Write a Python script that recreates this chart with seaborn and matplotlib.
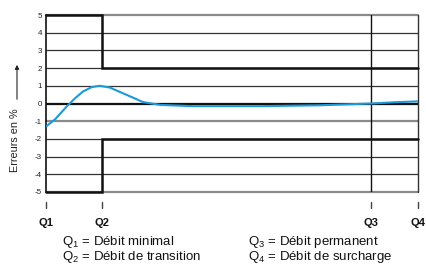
import pandas as pd
import seaborn as sns
import matplotlib.pyplot as plt

sns.set_theme(style='white')
plt.rcParams['font.family'] = ['Liberation Sans', 'DejaVu Sans']
plt.rcParams['mathtext.fontset'] = 'custom'
plt.rcParams['mathtext.rm'] = 'Liberation Sans'

# flow positions on the x axis
q_labels = ['Q1', 'Q2', 'Q3', 'Q4']
q_pos = [0, 1, 5.8, 6.64]

# error limits (%)
upper_x = [0, 1, 1, 6.64]
upper_y = [5, 5, 2, 2]
lower_x = [0, 1, 1, 6.64]
lower_y = [-5, -5, -2, -2]

# measured error curve
curve_x = [0, 0.16, 0.375, 0.52, 0.66, 0.82, 0.96, 1.14, 1.32, 1.54, 1.73,
           2.04, 2.63, 3.82, 4.89, 5.8, 6.23, 6.64]
curve_y = [-1.3, -0.9, -0.15, 0.3, 0.68, 0.93, 1.0, 0.9, 0.65, 0.35, 0.08,
           -0.08, -0.15, -0.15, -0.1, 0.0, 0.07, 0.12]

legend_left = ['Q$_{1}$ = Débit minimal', 'Q$_{2}$ = Débit de transition']
legend_right = ['Q$_{3}$ = Débit permanent', 'Q$_{4}$ = Débit de surcharge']

df = pd.DataFrame({'x': curve_x, 'y': curve_y})

fig = plt.figure(figsize=(4.26, 2.64), dpi=100)
ax = fig.add_axes([46 / 426, 1 - 192 / 264, 372 / 426, 177 / 264])

# horizontal grid
gray_levels = [5, -1, -5]
for lvl in range(-5, 6):
    if lvl == 0:
        ax.axhline(lvl, color='#111111', lw=1.6, zorder=2)
    elif lvl in gray_levels:
        ax.axhline(lvl, color='#8a8a8a', lw=1.6, zorder=1, clip_on=False)
    else:
        ax.axhline(lvl, color='#333333', lw=0.9, zorder=1)

ax.axvline(q_pos[2], color='#111111', lw=1.0, zorder=2)
ax.axvline(q_pos[3], color='#333333', lw=1.0, zorder=2, clip_on=False)
ax.axvline(q_pos[0], color='#111111', lw=1.2, zorder=2, clip_on=False)

ax.plot(upper_x, upper_y, color='#111111', lw=1.8, zorder=3, clip_on=False,
        solid_joinstyle='miter')
ax.plot(lower_x, lower_y, color='#111111', lw=1.8, zorder=3, clip_on=False,
        solid_joinstyle='miter')

sns.lineplot(data=df, x='x', y='y', ax=ax, color='#1a9ad8', lw=1.5, zorder=4)

# little tick marks under the plot, detached from it
for q in q_pos:
    ax.plot([q, q], [-0.056, -0.09], transform=ax.get_xaxis_transform(),
            color='#444444', lw=1.0, clip_on=False, zorder=5)

ax.set_xlim(0, 6.64)
ax.set_ylim(-5, 5)
sns.despine(ax=ax, left=True, bottom=True)

ax.set_yticks(range(-5, 6))
ax.set_yticklabels([str(v) for v in range(-5, 6)], fontsize=5.8, color='#222222')
ax.tick_params(axis='y', left=False, length=0, pad=3)

ax.set_xticks(q_pos)
ax.set_xticklabels(q_labels, fontsize=8, fontweight='bold', color='#111111')
ax.tick_params(axis='x', length=0, pad=19)
ax.set_xlabel('')
ax.set_ylabel('')

# y label with arrow
fig.text(15 / 426, 1 - 140 / 264, 'Erreurs en %', rotation=90, fontsize=7.8,
         ha='center', va='center', color='#222222')
ax.annotate('', xy=(17 / 426, 1 - 62 / 264), xytext=(17 / 426, 1 - 102 / 264),
            xycoords='figure fraction', textcoords='figure fraction',
            arrowprops=dict(arrowstyle='-|>', color='#222222', lw=0.8,
                            mutation_scale=6))

for i, t in enumerate(legend_left):
    fig.text(62 / 426, 1 - (242 + 15 * i) / 264, t, fontsize=9.5, va='center',
             color='#111111')
for i, t in enumerate(legend_right):
    fig.text(248 / 426, 1 - (242 + 15 * i) / 264, t, fontsize=9.5, va='center',
             color='#111111')

fig.savefig('out.png', dpi=100)
